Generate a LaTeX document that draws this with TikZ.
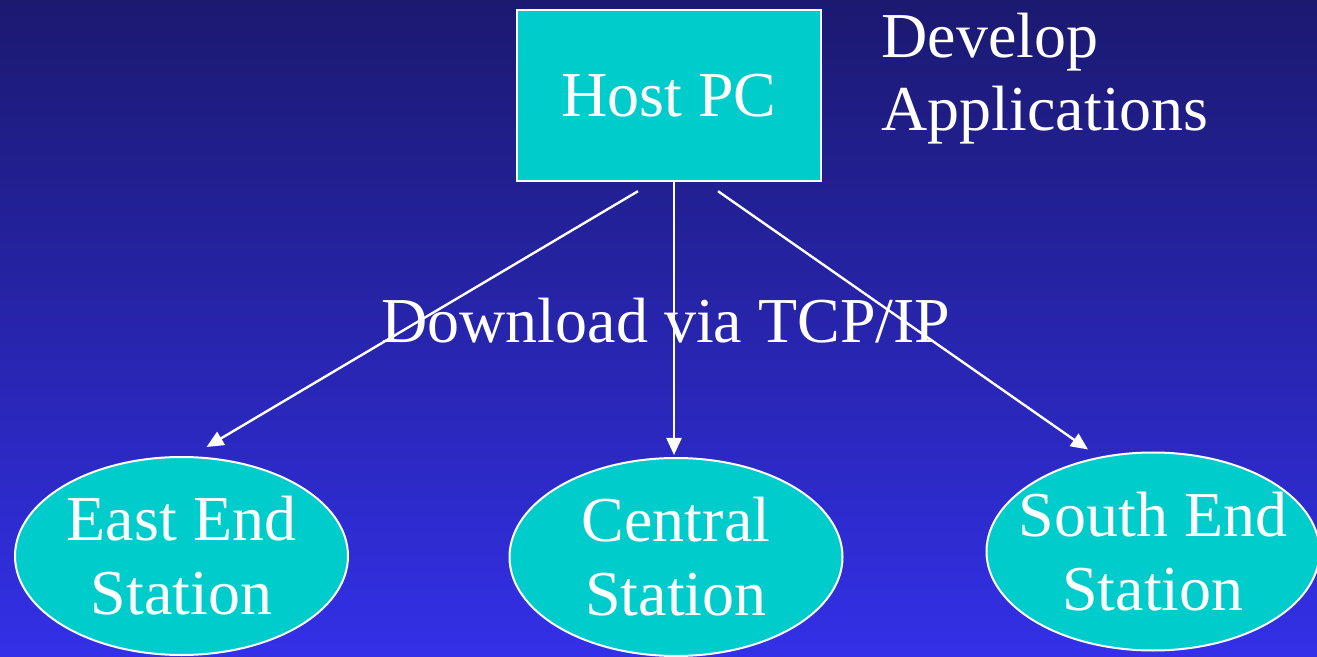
\documentclass[tikz,border=0pt]{standalone}
\usepackage{fontspec}
\setmainfont{Liberation Serif}
\usepackage{tikz}
\usetikzlibrary{positioning,shapes.geometric,arrows.meta}

\definecolor{slidetop}{RGB}{27,25,112}
\definecolor{slidebot}{RGB}{51,48,232}
\definecolor{boxcyan}{RGB}{0,204,204}

\tikzset{
    hostbox/.style={draw=white, line width=1.2pt, fill=boxcyan, text=white,
        minimum width=152pt, minimum height=85.5pt, inner sep=0pt},
    station/.style={ellipse, draw=white, line width=1pt, fill=boxcyan, text=white,
        align=center, minimum width=166.5pt, minimum height=99pt,
        inner xsep=-40pt, inner ysep=-25pt},
    note/.style={text=white, inner sep=0pt},
    link/.style={draw=white, line width=1.2pt, -{Triangle[length=8.5pt,width=7.5pt]}}
}

\begin{document}
\begin{tikzpicture}[x=0.5pt, y=-0.5pt, font=\fontsize{32}{37}\selectfont]
        \shade[top color=slidetop, bottom color=slidebot] (0,0) rectangle (1317,657);
        \useasboundingbox (0,0) rectangle (1317,657);

        \node[hostbox] (host) at (669,95.5) {Host PC};
        \node[note, align=left, right=29.5pt of host.north east, anchor=north west, yshift=-2pt] (dev) {Develop\\[-0.5pt]Applications};

        \node[station] (east) at (181.5,556) {East End\\Station};
        \node[station] (central) at (676,557) {Central\\Station};
        \node[station] (south) at (1153,551.5) {South End\\Station};

        \node[note, anchor=base] (tcp) at (666,343) {Download via TCP/IP};

        \draw[link] ([xshift=-15.5pt,yshift=-4.5pt]host.south) -- ([xshift=12.5pt,yshift=4.5pt]east.north);
        \draw[link] ([xshift=2.5pt]host.south) -- ([xshift=-1pt,yshift=1pt]central.north);
        \draw[link] ([xshift=24.5pt,yshift=-4.5pt]host.south) -- ([xshift=-32.5pt,yshift=1pt]south.north);
\end{tikzpicture}
\end{document}
